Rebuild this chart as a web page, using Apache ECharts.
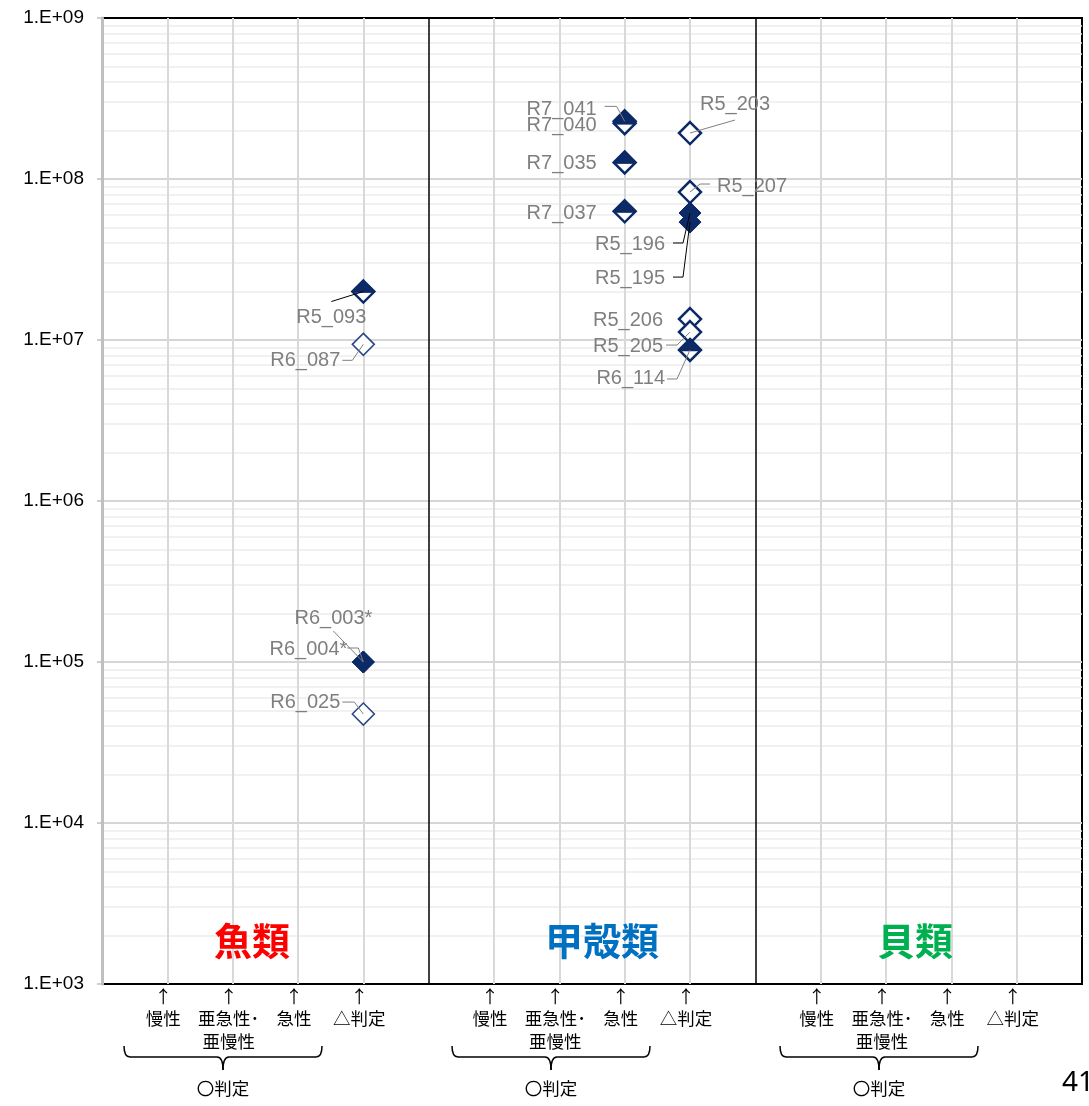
<!DOCTYPE html>
<html>
<head>
<meta charset="utf-8">
<script src="https://cdn.jsdelivr.net/npm/echarts@6/dist/echarts.min.js"></script>
<style>html,body{margin:0;padding:0;background:#fff;}#c{width:1089px;height:1106px;}</style>
</head>
<body>
<div id="c"></div>
<script>
// ---- data ----
const groupNames = ['魚類', '甲殻類', '貝類'];
const columnLabels = ['慢性', '亜急性･\n亜慢性', '急性', '△判定'];
const yTickValues = [1e3, 1e4, 1e5, 1e6, 1e7, 1e8, 1e9];

// filled diamonds
const filledNames = ['R5_196', 'R5_195', 'R6_003*', 'R6_004*'];
const filledX = [9, 9, 4, 4];
const filledY = [6.15e7, 5.4e7, 1.0e5, 1.0e5];

// open diamonds
const openNames = ['R6_087', 'R6_025', 'R5_203', 'R5_207', 'R5_206', 'R5_205'];
const openX = [4, 4, 9, 9, 9, 9];
const openY = [9.4e6, 4.75e4, 1.93e8, 8.3e7, 1.35e7, 1.12e7];

// half-filled diamonds
const halfNames = ['R5_093', 'R7_041', 'R7_040', 'R7_035', 'R7_037', 'R6_114'];
const halfX = [4, 8, 8, 8, 8, 9];
const halfY = [2.0e7, 2.28e8, 2.22e8, 1.266e8, 6.3e7, 8.67e6];

// ---- label placement (pixels relative to marker): [dx, dy, align, leader points] ----
const labelPlace = {
  'R7_041': [-28, -12, 'right', [[-20, -15], [-8, -15]]],
  'R7_040': [-28, 2, 'right', null],
  'R7_035': [-28, 1, 'right', null],
  'R7_037': [-28, 2, 'right', null],
  'R5_203': [10, -29, 'left', [[45, -13]]],
  'R5_207': [27, -6, 'left', [[20, -8], [10, -8]]],
  'R5_196': [-25, 31, 'right', [[-17, 30], [-7, 30]]],
  'R5_195': [-25, 56, 'right', [[-17, 55], [-7, 55]]],
  'R5_206': [-27, 1, 'right', null],
  'R5_205': [-27, 14, 'right', [[-24, 13], [-13, 13]]],
  'R6_114': [-25, 29, 'right', [[-23, 29], [-13, 29]]],
  'R5_093': [3, 26, 'right', [[-32, 10]]],
  'R6_087': [-23, 16, 'right', [[-21, 16], [-11, 16]]],
  'R6_003*': [9, -44, 'right', [[-30, -31]]],
  'R6_004*': [-16, -13, 'right', [[-16, -14], [-5, -14]]],
  'R6_025': [-23, -12, 'right', [[-21, -12], [-9, -12]]]
};
const blackLeaders = ['R5_093', 'R5_196', 'R5_195'];
const thinBorders = ['R6_087', 'R6_025'];

const NAVY = '#0c2a66';
const xTickText = [];
for (let v = 0; v <= 15; v++) {
  const k = v % 5;
  xTickText.push(k === 0 ? '' : '↑\n' + columnLabels[k - 1]);
}

function mkData(names, xs, ys, withStyle) {
  return names.map((n, i) => {
    const d = { name: n, value: [xs[i], ys[i]] };
    if (withStyle && thinBorders.indexOf(n) >= 0) d.itemStyle = { borderWidth: 1.6, borderColor: '#2c4a86' };
    return d;
  });
}
function layoutFor(names) {
  return function (p) {
    const pl = labelPlace[names[p.dataIndex]];
    const cx = p.rect.x + p.rect.width / 2;
    const cy = p.rect.y + p.rect.height / 2;
    return { x: cx + pl[0], y: cy + pl[1], align: pl[2], verticalAlign: 'middle' };
  };
}
const labelCfg = { show: true, formatter: '{b}', color: '#7f7f7f', fontSize: 20, fontFamily: 'Liberation Sans, Arial, sans-serif' };

// leader lines (custom series, positioned through the axes)
const allNames = filledNames.concat(openNames, halfNames);
const allX = filledX.concat(openX, halfX);
const allY = filledY.concat(openY, halfY);
const leaderItems = [];
allNames.forEach((n, i) => { if (labelPlace[n][3]) leaderItems.push({ name: n, value: [allX[i], allY[i]] }); });

// gridlines via markLine (drawn in order)
const gl = [];
for (let e = 3; e < 9; e++) {
  for (let m = 2; m <= 9; m++) gl.push({ yAxis: m * Math.pow(10, e), lineStyle: { color: '#ececec', width: 1.5, type: 'solid' } });
}
for (let e = 4; e < 9; e++) gl.push({ yAxis: Math.pow(10, e), lineStyle: { color: '#d6d6d6', width: 2, type: 'solid' } });
for (let v = 1; v < 15; v++) if (v % 5 !== 0) gl.push({ xAxis: v, lineStyle: { color: '#d9d9d9', width: 2, type: 'solid' } });
gl.push({ xAxis: 5, lineStyle: { color: '#000', width: 1.5, type: 'solid' } });
gl.push({ xAxis: 10, lineStyle: { color: '#000', width: 1.5, type: 'solid' } });

const chart = echarts.init(document.getElementById('c'), null, { renderer: 'canvas' });

const braceStyle = { stroke: '#000', lineWidth: 1.5, fill: null };
function brace(x1, x2, y) {
  const c = (x1 + x2) / 2;
  return [
    { type: 'bezierCurve', z: 50, shape: { x1: x1, y1: y - 11, cpx1: x1, cpy1: y, x2: x1 + 6, y2: y }, style: braceStyle },
    { type: 'line', z: 50, shape: { x1: x1 + 6, y1: y, x2: c - 6, y2: y }, style: braceStyle },
    { type: 'bezierCurve', z: 50, shape: { x1: c - 6, y1: y, cpx1: c, cpy1: y, x2: c, y2: y + 13 }, style: braceStyle },
    { type: 'bezierCurve', z: 50, shape: { x1: c, y1: y + 13, cpx1: c, cpy1: y, x2: c + 6, y2: y }, style: braceStyle },
    { type: 'line', z: 50, shape: { x1: c + 6, y1: y, x2: x2 - 6, y2: y }, style: braceStyle },
    { type: 'bezierCurve', z: 50, shape: { x1: x2 - 6, y1: y, cpx1: x2, cpy1: y, x2: x2, y2: y - 11 }, style: braceStyle }
  ];
}
let graphics = [];
const groupCenters = [252, 602, 915];
const groupColors = ['#ff0000', '#0070c0', '#00b050'];
groupNames.forEach((g, i) => {
  graphics.push({ type: 'text', z: 50, style: { text: g, x: groupCenters[i], y: 941, align: 'center', verticalAlign: 'middle',
    fill: groupColors[i], fontSize: 38, fontWeight: 'bold', fontFamily: 'Noto Sans CJK JP' } });
});
[124, 452, 780].forEach((x1) => {
  graphics = graphics.concat(brace(x1, x1 + 198, 1057));
  graphics.push({ type: 'text', z: 50, style: { text: '〇判定', x: x1 + 99, y: 1088, align: 'center', verticalAlign: 'middle',
    fill: '#000', fontSize: 17.5, fontFamily: 'Noto Sans CJK JP' } });
});
graphics.push({ type: 'text', z: 50, style: { text: '41', x: 1062, y: 1083, align: 'left', verticalAlign: 'middle', fill: '#000', fontSize: 28, fontFamily: 'Noto Sans, Liberation Sans, Arial' } });

chart.setOption({
  animation: false,
  backgroundColor: '#fff',
  grid: { left: 102, right: 6, top: 18, bottom: 122, show: true, borderColor: '#000', borderWidth: 2, backgroundColor: 'transparent' },
  xAxis: {
    type: 'value', min: 0, max: 15, interval: 1,
    axisLine: { show: true, lineStyle: { color: '#000', width: 2 } },
    axisTick: { show: false }, splitLine: { show: false },
    axisLabel: { show: true, margin: 1, lineHeight: 22.5, fontSize: 17.5, color: '#000', fontFamily: 'Noto Sans CJK JP',
      padding: [0, 8, 0, 0],
      formatter: (v) => xTickText[Math.round(v)] || '' }
  },
  yAxis: {
    type: 'log', logBase: 10, min: 1e3, max: 1e9, z: 5,
    axisLine: { show: true, lineStyle: { color: '#bfbfbf', width: 3 } },
    axisTick: { show: true, length: 5, lineStyle: { color: '#bfbfbf', width: 1.5 } },
    splitLine: { show: false }, minorSplitLine: { show: false },
    axisLabel: { margin: 18, fontSize: 19, color: '#000', fontFamily: 'Liberation Sans, Arial, sans-serif',
      formatter: (v) => { const e = Math.round(Math.log10(v)); return '1.E+' + (e < 10 ? '0' + e : e); } }
  },
  graphic: graphics,
  series: [
    { type: 'scatter', data: [], silent: true,
      markLine: { silent: true, symbol: 'none', label: { show: false }, animation: false,
        lineStyle: { type: 'solid' }, data: gl } },
    { type: 'scatter', z: 10, symbol: 'diamond', symbolSize: 22,
      itemStyle: { color: '#fff', borderColor: NAVY, borderWidth: 2.5, opacity: 1 },
      data: mkData(openNames, openX, openY, true),
      label: labelCfg, labelLayout: layoutFor(openNames) },
    { type: 'scatter', z: 11, symbol: 'diamond', symbolSize: 22,
      itemStyle: { color: NAVY, borderColor: NAVY, borderWidth: 1, opacity: 1 },
      data: mkData(filledNames, filledX, filledY, true),
      label: labelCfg, labelLayout: layoutFor(filledNames) },
    { type: 'scatter', z: 12, symbol: 'diamond', symbolSize: 22,
      itemStyle: { color: '#fff', borderColor: NAVY, borderWidth: 2.5, opacity: 1 },
      data: mkData(halfNames, halfX, halfY, true),
      label: labelCfg, labelLayout: layoutFor(halfNames) },
    { type: 'scatter', z: 13, silent: true, symbol: 'path://M11 0L22 11L21 12L1 12L0 11Z', symbolSize: [22, 12], symbolOffset: [0, -5],
      itemStyle: { color: NAVY, borderColor: NAVY, borderWidth: 1, opacity: 1 },
      data: mkData(halfNames, halfX, halfY, false), label: { show: false } },
    { type: 'custom', z: 14, silent: true, data: leaderItems, encode: { x: 0, y: 1 },
      renderItem: function (params, api) {
        const c = api.coord([api.value(0), api.value(1)]);
        const n = leaderItems[params.dataIndex].name;
        const pts = labelPlace[n][3].map(q => [c[0] + q[0], c[1] + q[1]]);
        pts.push([c[0], c[1]]);
        return { type: 'polyline', shape: { points: pts },
          style: { stroke: blackLeaders.indexOf(n) >= 0 ? '#000' : '#808080', lineWidth: 1, fill: null } };
      } }
  ]
});
</script>
</body>
</html>
